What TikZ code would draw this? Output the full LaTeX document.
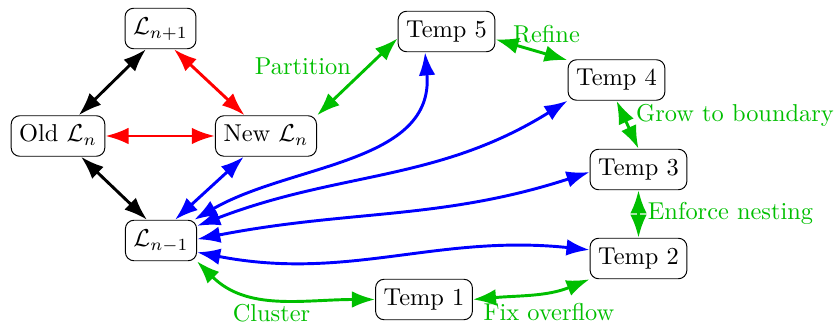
\documentclass[tikz,border=0pt]{standalone}
\usetikzlibrary{arrows.meta}
\definecolor{lgreen}{RGB}{0,191,0}
\tikzset{
  box/.style={draw, rounded corners=3.5pt, inner sep=3.3pt, fill=white, text height=7.4pt, text depth=2.6pt},
  con/.style={line width=1.2pt, {Latex[length=9.5pt,width=6.8pt]}-{Latex[length=9.5pt,width=6.8pt]}},
  lab/.style={text=lgreen},
}
\begin{document}
\begin{tikzpicture}[x=0.0144cm,y=0.0144cm]
\useasboundingbox (0,0) rectangle (838,-323);
% nodes
\node[box] (Lp1) at (160.5,-28.5) {$\mathcal{L}_{n+1}$};
\node[box] (Old) at (58,-136) {Old $\mathcal{L}_n$};
\node[box] (New) at (266,-136) {New $\mathcal{L}_n$};
\node[box] (Lm1) at (161,-240.5) {$\mathcal{L}_{n-1}$};
\node[box] (T5) at (446.5,-31.5) {Temp 5};
\node[box] (T4) at (616.5,-80) {Temp 4};
\node[box] (T3) at (638.5,-169.5) {Temp 3};
\node[box] (T2) at (638.5,-258.5) {Temp 2};
\node[box] (T1) at (424,-299.5) {Temp 1};
% labels
\node[lab] (lPart) at (303,-66) {Partition};
\node[lab] (lRef) at (546.5,-34) {Refine};
\node[lab] (lGrow) at (735,-115) {Grow to boundary};
\node[lab] (lEnf) at (730.5,-213) {Enforce nesting};
\node[lab] (lFix) at (549,-312) {Fix overflow};
\node[lab] (lClu) at (271.5,-313) {Cluster};
% black
\draw[con, black] (Old.45) -- (Lp1.235);
\draw[con, black] (Old.318) -- (Lm1.124);
% red
\draw[con, red] (Lp1.303) -- (New.136);
\draw[con, red] (Old.east) -- (New.west);
% blue
\draw[con, blue] (New.223) -- (Lm1.56);
\draw[con, blue] (Lm1.32) to[out=30,in=-85] (T5.224);
\draw[con, blue] (Lm1.22) to[out=21,in=212] (T4.203);
\draw[con, blue] (Lm1.2) to[out=11,in=198] (T3.183);
\draw[con, blue] (Lm1.342) to[out=-11,in=174] (T2.170);
% green
\draw[con, lgreen] (New.22) -- (T5.188);
\draw[con, lgreen] (T5.351) -- (T4.158);
\draw[con, lgreen] (T4.south) -- (T3.north);
\draw[con, lgreen] (T3.south) -- (T2.north);
\draw[con, lgreen] (T1.east) to[out=5,in=202] (T2.203);
\draw[con, lgreen] (Lm1.330) to[out=-45,in=180] (T1.west);
\end{tikzpicture}
\end{document}
